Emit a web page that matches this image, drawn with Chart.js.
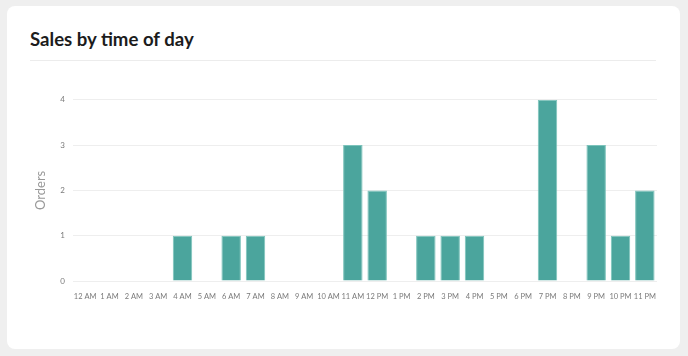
<!DOCTYPE html>
<html>
<head>
<meta charset="utf-8">
<script src="https://cdn.jsdelivr.net/npm/chart.js@4/dist/chart.umd.min.js"></script>
<style>
  html, body { margin: 0; padding: 0; background: #efefef; width: 688px; height: 356px; overflow: hidden; }
  .card { position: absolute; left: 7px; top: 6px; width: 673px; height: 343px; background: #fff; border-radius: 8px; }
  .title { position: absolute; left: 23px; top: 22px; font-family: Lato, sans-serif; font-weight: 700; font-size: 18.6px; color: #1c1c1c; }
  .rule { position: absolute; left: 23px; top: 54px; width: 626px; height: 1px; background: #ececec; }
  .wrap { position: absolute; left: 23px; top: 81px; width: 630px; height: 217px; }
</style>
</head>
<body>
<div class="card">
  <div class="title">Sales by time of day</div>
  <div class="rule"></div>
  <div class="wrap"><canvas id="c" width="630" height="217"></canvas></div>
</div>
<script>
const hours = ["12 AM","1 AM","2 AM","3 AM","4 AM","5 AM","6 AM","7 AM","8 AM","9 AM","10 AM","11 AM","12 PM","1 PM","2 PM","3 PM","4 PM","5 PM","6 PM","7 PM","8 PM","9 PM","10 PM","11 PM"];
const orders = [0,0,0,0,1,0,1,1,0,0,0,3,2,0,1,1,1,0,0,4,0,3,1,2];
const yTicks = [0,1,2,3,4];

new Chart(document.getElementById('c'), {
  type: 'bar',
  data: {
    labels: hours,
    datasets: [{
      label: 'Orders',
      data: orders,
      backgroundColor: '#4ba59d',
      borderColor: '#7cc3bb',
      borderWidth: 1,
      barPercentage: 0.8,
      categoryPercentage: 1.0
    }]
  },
  options: {
    responsive: false,
    animation: false,
    layout: { padding: { top: 6, right: 3, left: 0, bottom: 0 } },
    plugins: { legend: { display: false }, tooltip: { enabled: false } },
    scales: {
      x: {
        grid: { display: false },
        border: { display: false },
        ticks: { color: '#7a7a7a', font: { family: 'Lato, sans-serif', size: 7.5 }, maxRotation: 0, autoSkip: false, padding: 3 },
        afterFit: s => { s.height = 23; }
      },
      y: {
        min: 0, max: 4,
        afterBuildTicks: s => { s.ticks = yTicks.map(v => ({ value: v })); },
        grid: { color: '#eeeeee', drawTicks: false },
        border: { display: false },
        ticks: { color: '#7a7a7a', font: { family: 'Lato, sans-serif', size: 8 }, padding: 8 },
        title: { display: true, text: 'Orders', color: '#999', font: { family: 'Lato, sans-serif', size: 13 }, padding: { top: 3, bottom: 0 } },
        afterFit: s => { s.width = 43; }
      }
    }
  }
});
</script>
</body>
</html>
